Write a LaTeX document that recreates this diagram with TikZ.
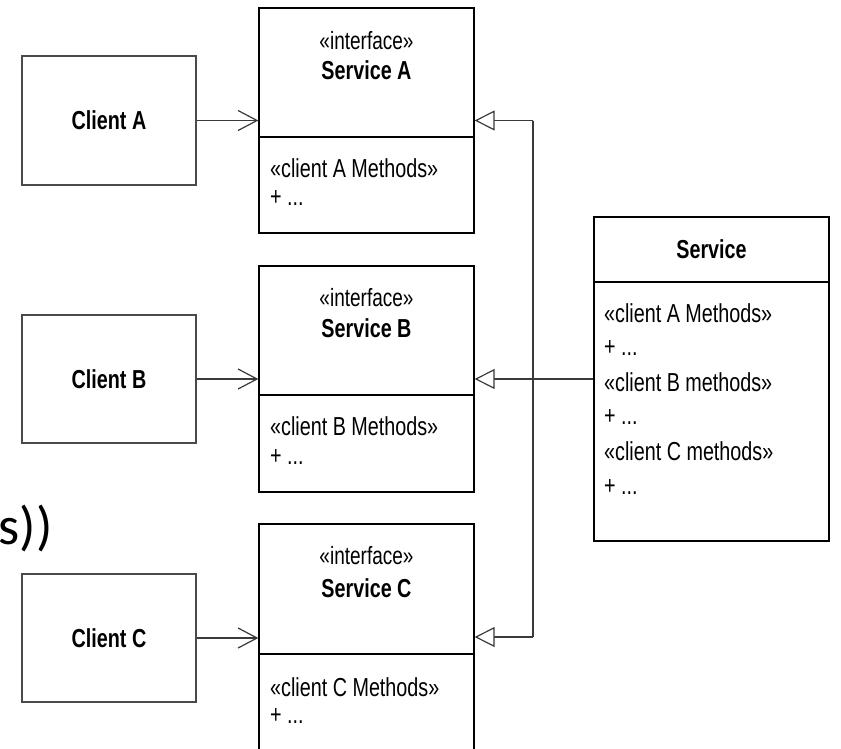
\documentclass[tikz,border=0pt]{standalone}
\usepackage{fontspec}
\usetikzlibrary{arrows.meta}
\newfontfamily\umlfont{Liberation Sans}[FakeStretch=0.76]
\newfontfamily\slidefont{Carlito}
\definecolor{boxgray}{HTML}{4A4A4A}
\definecolor{linegray}{HTML}{3A3A3A}
\tikzset{
  box/.style={draw=boxgray, line width=1.3pt, rectangle, inner sep=0pt},
  sbox/.style={draw=black, line width=1.3pt, rectangle, inner sep=0pt},
  divider/.style={draw=black, line width=1.3pt},
  clienttxt/.style={font=\umlfont\bfseries\fontsize{26}{30}\selectfont, inner sep=0pt},
  stereo/.style={font=\umlfont\fontsize{25}{29}\selectfont, inner sep=0pt},
  nametxt/.style={font=\umlfont\bfseries\fontsize{26}{30}\selectfont, inner sep=0pt},
  member/.style={font=\umlfont\fontsize{26}{30}\selectfont, inner sep=0pt, anchor=west},
  uses/.style={draw=linegray, line width=1.2pt, -{Straight Barb[length=19pt,width=20pt,line width=1.2pt]}},
  realizes/.style={draw=linegray, line width=1.2pt, -{Triangle[open,length=20pt,width=20pt,line width=1.2pt,fill=white]}},
  wire/.style={draw=linegray, line width=1.2pt}
}
\begin{document}
\begin{tikzpicture}[x=1pt,y=-1pt]
\useasboundingbox (0,0) rectangle (841,748);
\clip (0,0) rectangle (841,748);
\fill[white] (0,0) rectangle (841,748);

% slide fragment
\node[font=\slidefont\fontsize{54}{60}\selectfont, anchor=base west, inner sep=0pt] (frag) at (-1.5,544) {s))};

% clients
\node[box, minimum width=174pt, minimum height=129pt] (ca) at (109,120.5) {};
\node[clienttxt] (cat) at (ca.center) {Client A};
\node[box, minimum width=174pt, minimum height=128pt] (cb) at (109,379) {};
\node[clienttxt] (cbt) at (cb.center) {Client B};
\node[box, minimum width=174pt, minimum height=128pt] (cc) at (109,638) {};
\node[clienttxt] (cct) at (cc.center) {Client C};

% interface A
\node[sbox, minimum width=215pt, minimum height=225pt] (sa) at (366.5,120.5) {};
\coordinate (sadl) at (259,137);
\coordinate (sadr) at (474,137);
\draw[divider] (sadl) -- (sadr);
\node[stereo] (saS) at (366.5,41) {«interface»};
\node[nametxt] (saN) at (366.5,70) {Service A};
\node[member] (saM) at (270,168) {«client A Methods»};
\node[member] (saP) at (270,198) {+ ...};

% interface B
\node[sbox, minimum width=215pt, minimum height=226pt] (sb) at (366.5,379) {};
\coordinate (sbdl) at (259,395);
\coordinate (sbdr) at (474,395);
\draw[divider] (sbdl) -- (sbdr);
\node[stereo] (sbS) at (366.5,298) {«interface»};
\node[nametxt] (sbN) at (366.5,328) {Service B};
\node[member] (sbM) at (270,426) {«client B Methods»};
\node[member] (sbP) at (270,457) {+ ...};

% interface C (extends below the frame)
\node[sbox, minimum width=215pt, minimum height=226pt] (sc) at (366.5,637) {};
\coordinate (scdl) at (259,654);
\coordinate (scdr) at (474,654);
\draw[divider] (scdl) -- (scdr);
\node[stereo] (scS) at (366.5,556) {«interface»};
\node[nametxt] (scN) at (366.5,588) {Service C};
\node[member] (scM) at (270,687) {«client C Methods»};
\node[member] (scP) at (270,716) {+ ...};
\draw[sbox] (259,524) -- (259,760);
\draw[sbox] (474,524) -- (474,760);

% service class
\node[sbox, minimum width=235pt, minimum height=324pt] (sv) at (711.5,379) {};
\coordinate (svdl) at (594,282);
\coordinate (svdr) at (829,282);
\draw[divider] (svdl) -- (svdr);
\node[nametxt] (svN) at (711.5,249) {Service};
\node[member] (sv1) at (604,313) {«client A Methods»};
\node[member] (sv2) at (604,348) {+ ...};
\node[member] (sv3) at (604,382) {«client B methods»};
\node[member] (sv4) at (604,417) {+ ...};
\node[member] (sv5) at (604,451) {«client C methods»};
\node[member] (sv6) at (604,487) {+ ...};

% dependencies
\draw[uses] (ca.east) -- (sa.west |- ca.east);
\draw[uses] (cb.east) -- (sb.west |- cb.east);
\draw[uses] (cc.east) -- (sc.west |- cc.east);

% realizations
\coordinate (jt) at (533,120.5);
\coordinate (jb) at (533,637);
\draw[wire] (jt) -- (jb);
\draw[realizes] (jt) -- (sa.east |- jt);
\draw[realizes] (jb) -- (sc.east |- jb);
\draw[realizes] (sv.west) -- (sb.east |- sv.west);
\end{tikzpicture}
\end{document}
